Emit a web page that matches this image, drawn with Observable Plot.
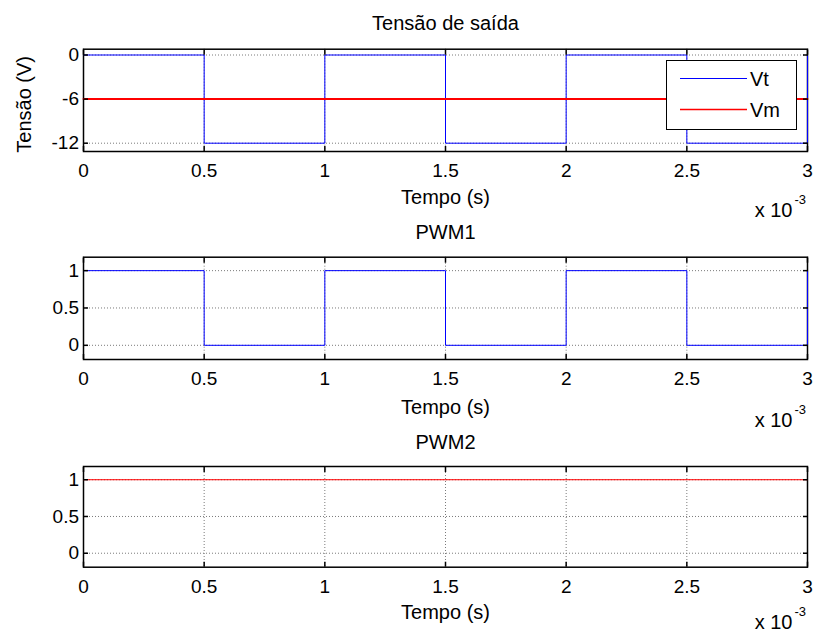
<!DOCTYPE html>
<html><head><meta charset="utf-8">
<script src="https://cdn.jsdelivr.net/npm/d3@7"></script>
<script src="https://cdn.jsdelivr.net/npm/@observablehq/plot@0.6"></script>
<style>
body{margin:0;background:#fff;}
#fig{position:relative;width:814px;height:633px;font-family:"Liberation Sans",Arial,sans-serif;background:#fff;overflow:hidden;}
#fig svg{position:absolute;left:0;}
</style></head><body><div id="fig"></div>
<script>
// ---- data ----
const time = [0, 0.0005, 0.001, 0.0015, 0.002, 0.0025, 0.003];
const vt = [0, -12, 0, -12, 0, -12, 0];
const vmTime = [0, 0.003];
const vm = [-6, -6];
const pwm1 = [1, 0, 1, 0, 1, 0, 1];
const pwm2Time = [0, 0.003];
const pwm2 = [1, 1];

const xTicks = [0, 0.0005, 0.001, 0.0015, 0.002, 0.0025, 0.003];
const xTickLabels = ["0", "0.5", "1", "1.5", "2", "2.5", "3"];
const y1Ticks = [-12, -6, 0];
const y1TickLabels = ["-12", "-6", "0"];
const y2Ticks = [0, 0.5, 1];
const y2TickLabels = ["0", "0.5", "1"];

const titles = ["Tensão de saída", "PWM1", "PWM2"];
const xLabel = "Tempo (s)";
const yLabel = "Tensão (V)";
const multBase = "x 10";
const multExp = "-3";
const legendLabels = ["Vt", "Vm"];

const BLUE = "#0000ff", RED = "#ff0000";
const fig = document.getElementById("fig");

function rows(xs, ys) { return xs.map((t, i) => ({t, v: ys[i]})); }

function panel(o) {
  const fmtX = d => { const i = xTicks.indexOf(d); return i < 0 ? "" : xTickLabels[i]; };
  const fmtY = d => { const i = o.yTicks.indexOf(d); return i < 0 ? "" : o.yLabels[i]; };
  const gridStyle = {stroke: "#7a7a7a", strokeOpacity: 1, strokeDasharray: "1,2", strokeWidth: 1};
  const marks = [
    Plot.gridX(xTicks, gridStyle),
    Plot.gridY(o.yTicks, gridStyle),
    Plot.frame({stroke: "black", strokeWidth: 1.5}),
    ...o.series.map(s => Plot.line(rows(s.x, s.y), {x: "t", y: "v", stroke: s.color, strokeWidth: s.width, curve: "step-after"})),
    Plot.axisX(xTicks, {anchor: "bottom", tickSize: -5, tickFormat: () => "", label: null, strokeWidth: 1.5}),
    Plot.axisX(xTicks, {anchor: "top", tickSize: -5, tickFormat: () => "", label: null, strokeWidth: 1.5}),
    Plot.axisX(xTicks, {anchor: "bottom", tickSize: 0, tickPadding: 12, tickFormat: fmtX, label: null, fontSize: 19}),
    Plot.axisY(o.yTicks, {anchor: "left", tickSize: -5, tickFormat: () => "", label: null, strokeWidth: 1.5}),
    Plot.axisY(o.yTicks, {anchor: "right", tickSize: -5, tickFormat: () => "", label: null, strokeWidth: 1.5}),
    Plot.axisY(o.yTicks, {anchor: "left", tickSize: 0, tickPadding: 4.5, tickFormat: fmtY, label: null, fontSize: 19}),
    Plot.text([o.title], {text: d => d, frameAnchor: "top", dy: o.titleDy, lineAnchor: "bottom", fontSize: 20}),
    Plot.text([xLabel], {text: d => d, frameAnchor: "bottom", dy: o.xlabDy, lineAnchor: "bottom", fontSize: 20}),
    Plot.text([multBase], {text: d => d, frameAnchor: "bottom-right", dx: -15, dy: o.multDy, textAnchor: "end", lineAnchor: "bottom", fontSize: 20}),
    Plot.text([multExp], {text: d => d, frameAnchor: "bottom-right", dx: -13, dy: o.multDy - 13.5, textAnchor: "start", lineAnchor: "bottom", fontSize: 13})
  ];
  if (o.ylabel) {
    marks.push(Plot.text([o.ylabel], {text: d => d, frameAnchor: "left", dx: -53, dy: 4, rotate: -90, textAnchor: "middle", lineAnchor: "bottom", fontSize: 20}));
  }
  const svg = Plot.plot({
    width: 814, height: o.height,
    marginLeft: 83, marginRight: 7, marginTop: o.mt, marginBottom: o.mb,
    x: {domain: [0, 0.003], label: null},
    y: {domain: o.yDomain, label: null},
    style: {fontFamily: '"Liberation Sans", Arial, sans-serif', fontSize: "19px", color: "black", background: "transparent", overflow: "visible"},
    marks
  });
  svg.style.top = o.top + "px";
  fig.appendChild(svg);
  return svg;
}

const svg1 = panel({top: 0, height: 222, mt: 48.7, mb: 71, yDomain: [-13.13, 0.79], yTicks: y1Ticks, yLabels: y1TickLabels,
  series: [{x: time, y: vt, color: BLUE, width: 1}, {x: vmTime, y: vm, color: RED, width: 2}],
  title: titles[0], titleDy: -19.4, xlabDy: 52.3, multDy: 65.7, ylabel: yLabel});
panel({top: 222, height: 208, mt: 34.7, mb: 71, yDomain: [-0.19, 1.18], yTicks: y2Ticks, yLabels: y2TickLabels,
  series: [{x: time, y: pwm1, color: BLUE, width: 1}],
  title: titles[1], titleDy: -18.4, xlabDy: 54.3, multDy: 67.7});
panel({top: 430, height: 203, mt: 36, mb: 66.3, yDomain: [-0.19, 1.18], yTicks: y2Ticks, yLabels: y2TickLabels,
  series: [{x: pwm2Time, y: pwm2, color: RED, width: 1}],
  title: titles[2], titleDy: -18, xlabDy: 51.6, multDy: 62});

// legend (drawn inside the first panel's svg, on top of the lines)
const legColors = [BLUE, RED];
const legWidths = [1, 1.5];
const g = d3.select(svg1).append("g").attr("class", "legend").attr("text-anchor", "start");
g.append("rect").attr("x", 666.5).attr("y", 60.5).attr("width", 130).attr("height", 69)
  .attr("fill", "white").attr("stroke", "black").attr("stroke-width", 1);
legendLabels.forEach((lab, i) => {
  const yy = 78.5 + i * 31;
  g.append("line").attr("x1", 680).attr("x2", 747).attr("y1", yy).attr("y2", yy)
    .attr("stroke", legColors[i]).attr("stroke-width", legWidths[i]);
  g.append("text").attr("x", 750).attr("y", yy + 7).attr("font-size", 20).attr("text-anchor", "start")
    .attr("fill", "black").attr("font-family", '"Liberation Sans", Arial, sans-serif').text(lab);
});
</script></body></html>
